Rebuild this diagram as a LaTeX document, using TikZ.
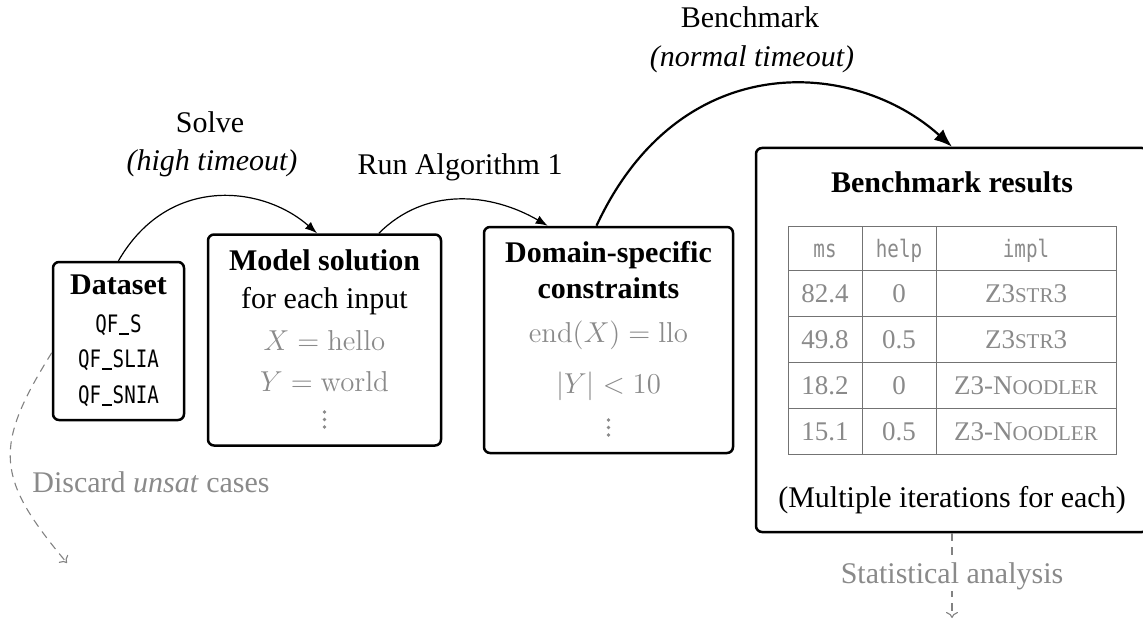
\documentclass[tikz,border=0pt]{standalone}
\usepackage[no-math]{fontspec}
\setmainfont{Liberation Serif}
\newfontfamily\monof[FakeStretch=0.8]{DejaVu Sans Mono}
\usetikzlibrary{arrows.meta}
\definecolor{txtgray}{RGB}{138,138,138}
\definecolor{rulegray}{RGB}{115,115,115}
\definecolor{dashgray}{RGB}{130,130,130}
\newcommand{\fsc}[1]{{\fontsize{10.5}{12}\selectfont #1}}
\newcommand{\us}{\makebox[0.48em][c]{\rule[-0.13em]{0.42em}{0.075em}}}
\begin{document}
\begin{tikzpicture}[x=0.5pt,y=-0.5pt,
  box/.style={draw, line width=1.25pt, rounded corners=3pt, inner sep=0pt},
  txt/.style={anchor=base, inner sep=0pt, font=\fontsize{15}{18}\selectfont},
  btxt/.style={anchor=base, inner sep=0pt, font=\fontsize{15}{18}\selectfont\bfseries},
  itxt/.style={anchor=base, inner sep=0pt, font=\fontsize{15}{18}\selectfont\itshape},
  gtxt/.style={anchor=base, inner sep=0pt, text=txtgray, font=\fontsize{15}{18}\selectfont},
  dotfill/.style={fill=txtgray},
  mono/.style={anchor=base, inner sep=0pt, font=\monof\fontsize{12}{14}\selectfont},
  cell/.style={anchor=base, inner sep=0pt, text=txtgray, font=\fontsize{13.5}{16}\selectfont},
  hcell/.style={anchor=base, inner sep=0pt, text=txtgray, font=\monof\fontsize{12}{14}\selectfont},
  flow/.style={line width=0.6pt, -{Latex[length=6pt,width=4.5pt]}},
  bigflow/.style={line width=1.1pt, -{Latex[length=9pt,width=7pt]}},
  side/.style={line width=0.55pt, draw=dashgray, dash pattern=on 4pt off 3pt, -{To[length=3pt,width=6pt]}}
]
\path[use as bounding box] (0,0) rectangle (1143,620);

% boxes
\node[box, minimum width=65.5pt, minimum height=79pt] (ds) at (118.5,341) {};
\node[box, minimum width=116.5pt, minimum height=105.5pt] (ms) at (324.5,340) {};
\node[box, minimum width=124.5pt, minimum height=113pt] (dc) at (608.5,340) {};
\node[box, minimum width=196pt, minimum height=192pt] (br) at (952,340) {};

% dataset content
\node[btxt] (dsA) at (118.5,294) {Dataset};
\node[mono] (dsB) at (118.5,332) {QF\us S};
\node[mono] (dsC) at (118.5,367) {QF\us SLIA};
\node[mono] (dsD) at (118.5,403) {QF\us SNIA};

% model solution content
\node[btxt] (msA) at (324.5,270) {Model solution};
\node[txt] (msB) at (324.5,308) {for each input};
\node[gtxt] (msC) at (324.5,350) {$X = \mathrm{hello}$};
\node[gtxt] (msD) at (324.5,391) {$Y = \mathrm{world}$};
\foreach \yy in {412,419.5,427} \fill[dotfill] (324.5,\yy) circle (0.9pt);

% domain constraints content
\node[btxt] (dcA) at (608.5,262) {Domain-specific};
\node[btxt] (dcB) at (608.5,298) {constraints};
\node[gtxt] (dcC) at (608.5,342) {$\mathrm{end}(X) = \mathrm{llo}$};
\node[gtxt] (dcD) at (608.5,393) {$|Y| < 10$};
\foreach \yy in {420,427.5,435} \fill[dotfill] (608.5,\yy) circle (0.9pt);

% benchmark results content
\node[btxt] (brA) at (952,192) {Benchmark results};
\node[txt] (brB) at (952,507) {(Multiple iterations for each)};

% table grid
\draw[rulegray, line width=0.5pt] (788,226) rectangle (1116,454);
\foreach \yy in {270,316,362,408} \draw[rulegray, line width=0.5pt] (788,\yy) -- (1116,\yy);
\foreach \xx in {862,936} \draw[rulegray, line width=0.5pt] (\xx,226) -- (\xx,454);

\node[hcell] (h1) at (825,257) {ms};
\node[hcell] (h2) at (899,257) {help};
\node[hcell] (h3) at (1026,257) {impl};

\node[cell] (r1a) at (825,302) {82.4};
\node[cell] (r1b) at (899,302) {0};
\node[cell] (r1c) at (1026,302) {Z3\fsc{STR}3};
\node[cell] (r2a) at (825,348) {49.8};
\node[cell] (r2b) at (899,348) {0.5};
\node[cell] (r2c) at (1026,348) {Z3\fsc{STR}3};
\node[cell] (r3a) at (825,394) {18.2};
\node[cell] (r3b) at (899,394) {0};
\node[cell] (r3c) at (1026,394) {Z3-N\fsc{OODLER}};
\node[cell] (r4a) at (825,440) {15.1};
\node[cell] (r4b) at (899,440) {0.5};
\node[cell] (r4c) at (1026,440) {Z3-N\fsc{OODLER}};

% flow arrows
\draw[flow] (ds.north) .. controls (168,175) and (262,185) .. (ms.94);
\draw[flow] (ms.63) to[out=45, in=150] (dc.118);
\draw[bigflow] (dc.96) .. controls (680,46) and (855,59) .. (br.north);

% arrow labels
\node[txt] (lSolve) at (210,133) {Solve};
\node[itxt] (lSolve2) at (212,170) {(high timeout)};
\node[txt] (lRun) at (460,175) {Run Algorithm 1};
\node[txt] (lBench) at (750,28) {Benchmark};
\node[itxt] (lBench2) at (752,67) {(normal timeout)};

% side paths
\coordinate (discEnd) at (67,563);
\draw[side] (ds.190) to[out=238, in=130, looseness=1.35] (discEnd);
\node[gtxt, anchor=base west] (lDisc) at (32,492) {Discard \textit{unsat} cases};

\coordinate (statEnd) at (952,618);
\draw[side] (br.south) -- (statEnd);
\node[gtxt, fill=white, inner sep=1pt] (lStat) at (952,583) {Statistical analysis};
\end{tikzpicture}
\end{document}
